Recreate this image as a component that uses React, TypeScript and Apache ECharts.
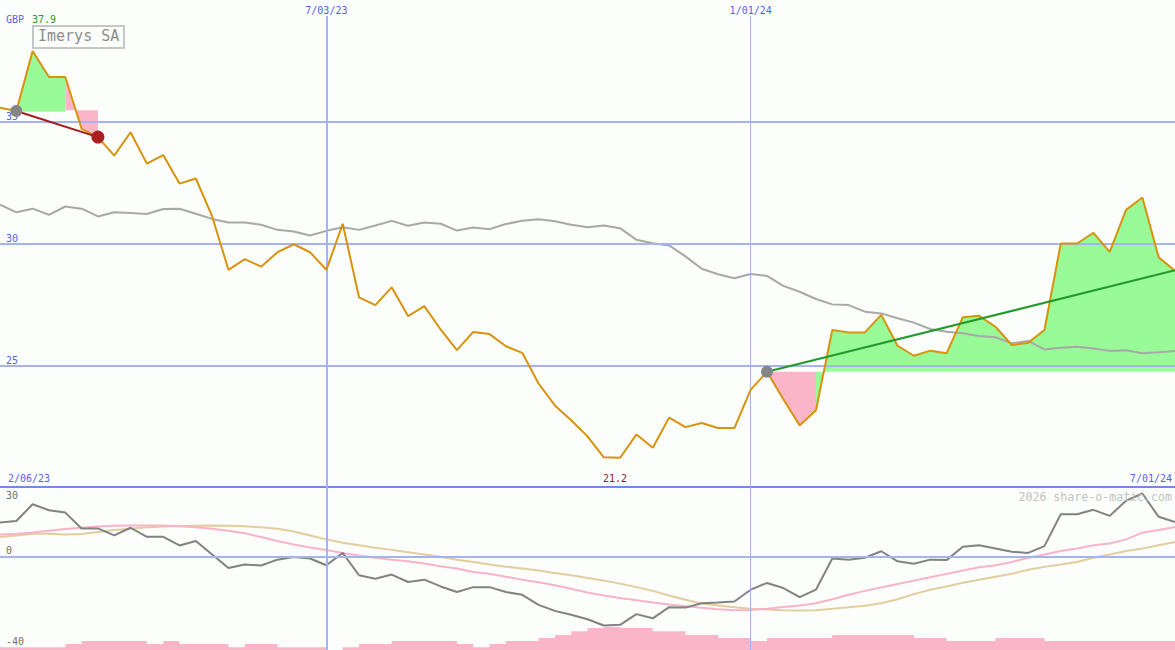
import React, { useEffect, useRef } from "react";
import * as echarts from "echarts";

// ---- data (weekly closes, index 0 = first week shown) ----
const price = [
  35.58, 35.44, 37.9, 36.84, 36.84, 34.71, 34.37, 33.61, 34.57, 33.28,
  33.63, 32.46, 32.67, 31.11, 28.92, 29.36, 29.05, 29.64, 29.97, 29.64,
  28.92, 30.81, 27.79, 27.47, 28.2, 27.02, 27.43, 26.47, 25.62, 26.37,
  26.28, 25.78, 25.51, 24.25, 23.35, 22.74, 22.08, 21.22, 21.2, 22.16,
  21.61, 22.85, 22.46, 22.63, 22.42, 22.42, 24.0, 24.73, 23.6, 22.53,
  23.15, 26.45, 26.35, 26.35, 27.07, 25.8, 25.39, 25.6, 25.49, 26.97,
  27.03, 26.58, 25.83, 25.92, 26.45, 30.0, 30.0, 30.44, 29.66, 31.38,
  31.89, 29.43, 28.88,
];
const movingAvg = [
  31.6, 31.28, 31.43, 31.18, 31.52, 31.43, 31.11, 31.28, 31.25, 31.21,
  31.42, 31.43, 31.22, 31.01, 30.86, 30.86, 30.77, 30.56, 30.49, 30.33,
  30.52, 30.67, 30.56, 30.74, 30.93, 30.73, 30.86, 30.81, 30.53, 30.66,
  30.59, 30.8, 30.93, 31.0, 30.91, 30.77, 30.67, 30.74, 30.63, 30.15,
  30.01, 29.92, 29.47, 28.96, 28.74, 28.57, 28.75, 28.67, 28.26, 28.02,
  27.72, 27.5, 27.47, 27.2, 27.13, 26.93, 26.75, 26.49, 26.38, 26.31,
  26.2, 26.15, 25.9, 26.0, 25.65, 25.72, 25.76, 25.69, 25.59, 25.62,
  25.49, 25.53, 25.59,
];
const oscillator = [
  14.7, 15.4, 22.6, 20.0, 19.0, 12.2, 12.2, 9.2, 12.5, 8.6,
  8.6, 4.9, 6.8, 1.0, -4.8, -3.3, -3.7, -1.2, -0.1, -0.7,
  -3.6, 1.7, -7.9, -9.4, -7.6, -10.8, -9.8, -12.7, -15.1, -13.0,
  -13.0, -15.1, -16.3, -20.6, -23.2, -24.9, -26.8, -29.5, -29.2, -24.6,
  -26.4, -21.6, -21.8, -19.9, -19.6, -19.2, -14.1, -11.2, -13.4, -17.3,
  -14.1, -0.7, -1.2, -0.4, 2.4, -1.9, -3.0, -1.2, -1.4, 4.3,
  5.0, 3.6, 2.2, 1.7, 4.6, 18.3, 18.3, 20.2, 17.6, 24.1,
  27.2, 17.2, 15.0,
];
const signalPink = [
  9.6, 9.9, 10.5, 11.2, 12.0, 12.5, 13.0, 13.4, 13.5, 13.5,
  13.5, 13.1, 12.7, 12.1, 11.2, 10.1, 8.5, 6.8, 5.3, 4.0,
  2.9, 1.7, 0.6, -0.4, -1.2, -1.9, -2.9, -4.0, -5.0, -6.5,
  -7.3, -8.5, -9.8, -10.9, -12.2, -13.7, -15.3, -16.6, -17.7, -18.6,
  -19.6, -20.5, -21.2, -21.9, -22.5, -22.9, -22.8, -22.3, -21.5, -20.9,
  -19.9, -18.2, -16.3, -14.6, -13.1, -11.7, -10.2, -8.8, -7.3, -5.9,
  -4.5, -3.6, -2.2, -0.4, 1.0, 2.5, 3.6, 5.0, 5.7, 7.5,
  10.4, 11.5, 12.8,
];
const signalTan = [
  8.5, 9.2, 9.9, 9.9, 9.6, 9.8, 10.7, 11.5, 12.1, 12.7,
  13.0, 13.3, 13.4, 13.5, 13.4, 13.1, 12.7, 12.1, 10.9, 9.2,
  7.5, 6.1, 5.0, 3.9, 3.0, 2.0, 1.0, 0, -1.2, -2.2,
  -3.3, -4.2, -5.0, -5.9, -6.9, -7.9, -9.1, -10.2, -11.5, -13.0,
  -14.6, -16.6, -18.4, -20.0, -20.9, -21.6, -22.3, -22.6, -22.9, -23.0,
  -22.9, -22.3, -21.6, -21.0, -19.9, -18.2, -16.0, -14.1, -12.7, -11.1,
  -9.8, -8.5, -7.3, -5.5, -4.3, -3.3, -2.2, -0.4, 1.0, 2.5,
  3.6, 5.0, 6.4,
];
const volume = [
  0.9, 0.9, 0.9, 0.9, 2, 3, 3, 3, 3, 2,
  3, 2, 2, 2, 0.9, 2, 2, 0.9, 0.9, 0.9,
  0, 0.9, 2, 2, 3, 3, 3, 3, 2, 0.9,
  2, 3, 3, 4, 5, 6.2, 7.3, 7.6, 7.3, 7.3,
  6.2, 6.2, 5, 5, 4, 4, 3, 4, 4, 4,
  4, 5, 5, 5, 5, 5, 4, 4, 3, 3,
  3, 4, 4, 4, 3, 3, 3, 3, 3, 3,
  3, 3, 3,
];
const dateTickIndex = [20, 46];
const dateTickLabels = ["7/03/23", "1/01/24"];
const priceTicks = [25, 30, 35];
const oscTicksLower = [0, -40];
const oscTicksUpper = [30];
const rangeLabels = ["2/06/23", "7/01/24"];
const downTrendIdx = [1, 6];
const upTrendIdx = [47, 72];
const upTrendEndValue = 28.9;
const greenFill1 = [1, 4];
const greenFill1Level = 35.41;
const pinkFill1 = [4, 6];
const pinkFill1Level = 35.47;
const pinkFill2 = [47, 50];
const greenFill2 = [50, 72];
const fill2Level = 24.73;
const title = "Imerys SA";
const currency = "GBP";
const watermark = "2026 share-o-matic.com";

const MONO = "DejaVu Sans Mono";
const BLUE_TXT = "#5463ee";
const GRID_BLUE = "#a6b3f3";
const PINK = "#fbb5c9";
const GREEN = "#98fb98";

const pts = (arr: number[], from: number, to: number) =>
  arr.slice(from, to + 1).map((v, k) => [from + k, v]);
const all = (arr: number[]) => arr.map((v, i) => [i, v]);

export default function App() {
  const ref = useRef<HTMLDivElement>(null);
  useEffect(() => {
    const chart = echarts.init(ref.current!, null, { renderer: "svg" });
    const last = price.length - 1;
    const maxV = Math.max(...price);
    const minV = Math.min(...price);
    const fill = (data: number[][], level: number, color: string) => ({
      type: "line",
      xAxisIndex: 0,
      yAxisIndex: 0,
      data,
      symbol: "none",
      silent: true,
      z: 2,
      lineStyle: { width: 0, opacity: 0 },
      areaStyle: { origin: level, color, opacity: 1 },
    });
    const oscLabelRich = {
      lo: { color: "#707070", fontSize: 10, fontFamily: MONO, padding: [0, 0, 4, 0] },
      mid: { color: "#707070", fontSize: 10, fontFamily: MONO, padding: [0, 0, 1, 0] },
      hi: { color: "#707070", fontSize: 10, fontFamily: MONO, padding: [3, 0, 0, 0] },
    };
    const option: any = {
      animation: false,
      backgroundColor: "#fcfefc",
      grid: [
        { left: 0, right: 0, top: 0, height: 487 },
        { left: 0, right: 0, top: 487, height: 163 },
      ],
      xAxis: [
        {
          gridIndex: 0, type: "value", min: 0, max: last,
          axisLine: { show: true, onZero: false, lineStyle: { color: "#7886ea", width: 2 } },
          axisTick: { show: false }, axisLabel: { show: false }, splitLine: { show: false },
        },
        {
          gridIndex: 1, type: "value", min: 0, max: last, show: false,
          splitLine: { show: false },
        },
      ],
      yAxis: [
        {
          gridIndex: 0, type: "value", min: 20, max: 40, interval: 5, position: "left",
          axisLine: { show: false }, axisTick: { show: false }, splitLine: { show: false },
          axisLabel: {
            inside: true, margin: 6, verticalAlign: "bottom", color: BLUE_TXT,
            fontSize: 10, fontFamily: MONO,
            formatter: (v: number) => (priceTicks.includes(v) ? String(v) : ""),
          },
        },
        {
          gridIndex: 1, type: "value", min: -40, max: 30, interval: 10, position: "left",
          axisLine: { show: false }, axisTick: { show: false }, splitLine: { show: false },
          axisLabel: {
            inside: true, margin: 6, verticalAlign: "bottom",
            rich: oscLabelRich,
            formatter: (v: number) =>
              oscTicksLower.includes(v) ? (v === -40 ? `{lo|${v}}` : `{mid|${v}}`) : "",
          },
        },
        {
          gridIndex: 1, type: "value", min: -40, max: 30, interval: 10, position: "left",
          axisLine: { show: false }, axisTick: { show: false }, splitLine: { show: false },
          axisLabel: {
            inside: true, margin: 6, verticalAlign: "top",
            rich: oscLabelRich,
            formatter: (v: number) => (oscTicksUpper.includes(v) ? `{hi|${v}}` : ""),
          },
        },
        { gridIndex: 1, type: "value", min: 0, max: 54, show: false, splitLine: { show: false } },
      ],
      series: [
        {
          type: "line", xAxisIndex: 0, yAxisIndex: 0, data: all(price), symbol: "none",
          silent: true, z: 1, lineStyle: { width: 0, opacity: 0 },
          markLine: {
            silent: true, symbol: ["none", "none"], label: { show: false },
            data: [
              ...priceTicks.map((v) => ({ yAxis: v, lineStyle: { color: GRID_BLUE, width: 2, type: "solid" } })),
              ...dateTickIndex.map((idx, k) => [
                {
                  coord: [idx, 39.34],
                  lineStyle: { color: GRID_BLUE, width: k === 0 ? 2 : 1, type: "solid" },
                  label: {
                    show: true, position: "start", formatter: dateTickLabels[k], distance: 1,
                    color: BLUE_TXT, fontSize: 10, fontFamily: MONO,
                  },
                },
                { coord: [idx, 20] },
              ]),
            ],
          },
        },
        {
          type: "line", xAxisIndex: 1, yAxisIndex: 1, data: all(oscillator), symbol: "none",
          silent: true, z: 1, lineStyle: { width: 0, opacity: 0 },
          markLine: {
            silent: true, symbol: ["none", "none"], label: { show: false },
            data: [
              { yAxis: 0, lineStyle: { color: GRID_BLUE, width: 2, type: "solid" } },
              ...dateTickIndex.map((idx, k) => [
                { coord: [idx, 30], lineStyle: { color: GRID_BLUE, width: k === 0 ? 2 : 1, type: "solid" } },
                { coord: [idx, -40] },
              ]),
            ],
          },
        },
        {
          type: "line", xAxisIndex: 1, yAxisIndex: 3, data: all(volume), step: "end",
          symbol: "none", silent: true, z: 1,
          lineStyle: { width: 0, opacity: 0 },
          areaStyle: { color: PINK, opacity: 1, origin: "start" },
        },
        fill(pts(price, greenFill1[0], greenFill1[1]), greenFill1Level, GREEN),
        fill(pts(price, pinkFill1[0], pinkFill1[1]), pinkFill1Level, PINK),
        fill(pts(price, pinkFill2[0], pinkFill2[1]), fill2Level, PINK),
        fill(pts(price, greenFill2[0], greenFill2[1]), fill2Level, GREEN),
        {
          type: "line", xAxisIndex: 0, yAxisIndex: 0, data: all(movingAvg), symbol: "none",
          silent: true, z: 3, lineStyle: { color: "#a8a8a8", width: 2 },
        },
        {
          type: "line", xAxisIndex: 0, yAxisIndex: 0, data: all(price), symbol: "none",
          silent: true, z: 5, lineStyle: { color: "#d8920c", width: 2 },
        },
        {
          type: "line", xAxisIndex: 0, yAxisIndex: 0, symbol: "none", silent: true, z: 6,
          data: [[downTrendIdx[0], price[downTrendIdx[0]]], [downTrendIdx[1], price[downTrendIdx[1]]]],
          lineStyle: { color: "#a41c1c", width: 2 },
        },
        {
          type: "line", xAxisIndex: 0, yAxisIndex: 0, symbol: "none", silent: true, z: 6,
          data: [[upTrendIdx[0], price[upTrendIdx[0]]], [upTrendIdx[1], upTrendEndValue]],
          lineStyle: { color: "#229a2a", width: 2 },
        },
        {
          type: "scatter", xAxisIndex: 0, yAxisIndex: 0, silent: true, z: 7, symbolSize: 12,
          data: [[downTrendIdx[0], price[downTrendIdx[0]]], [upTrendIdx[0], price[upTrendIdx[0]]]],
          itemStyle: { color: "#858585", opacity: 1 },
        },
        {
          type: "scatter", xAxisIndex: 0, yAxisIndex: 0, silent: true, z: 7, symbolSize: 13,
          data: [[downTrendIdx[1], price[downTrendIdx[1]]]],
          itemStyle: { color: "#a82020", opacity: 1 },
        },
        {
          type: "line", xAxisIndex: 1, yAxisIndex: 1, data: all(signalTan), symbol: "none",
          silent: true, z: 3, lineStyle: { color: "#e3cd9e", width: 2 },
        },
        {
          type: "line", xAxisIndex: 1, yAxisIndex: 1, data: all(signalPink), symbol: "none",
          silent: true, z: 3, lineStyle: { color: "#f9b3c9", width: 2 },
        },
        {
          type: "line", xAxisIndex: 1, yAxisIndex: 1, data: all(oscillator), symbol: "none",
          silent: true, z: 4, lineStyle: { color: "#828282", width: 2 },
        },
      ],
      graphic: [
        { type: "text", left: 6, top: 14, z: 10, style: { text: currency, fill: BLUE_TXT, font: `10px '${MONO}'` } },
        { type: "text", left: 32, top: 14, z: 10, style: { text: maxV.toFixed(1), fill: "#2a9a2a", font: `10px '${MONO}'` } },
        {
          type: "rect", left: 32, top: 25, z: 10,
          shape: { width: 91, height: 22 },
          style: { fill: "#fcfefc", stroke: "#c6c6c6", lineWidth: 2 },
        },
        { type: "text", left: 38, top: 28, z: 11, style: { text: title, fill: "#8c8c8c", font: `15px '${MONO}'` } },
        { type: "text", left: 603, top: 473, z: 10, style: { text: minV.toFixed(1), fill: "#a01818", font: `10px '${MONO}'` } },
        { type: "text", left: 8, top: 473, z: 10, style: { text: rangeLabels[0], fill: BLUE_TXT, font: `10px '${MONO}'` } },
        { type: "text", right: 3, top: 473, z: 10, style: { text: rangeLabels[1], fill: BLUE_TXT, font: `10px '${MONO}'` } },
        { type: "text", right: 3, top: 491, z: 10, style: { text: watermark, fill: "#c2c2c2", font: `11.6px '${MONO}'` } },
      ],
    };
    chart.setOption(option);
    return () => chart.dispose();
  }, []);
  return (
    <div
      ref={ref}
      style={{ position: "absolute", left: 0, top: 0, width: 1175, height: 650 }}
    />
  );
}
